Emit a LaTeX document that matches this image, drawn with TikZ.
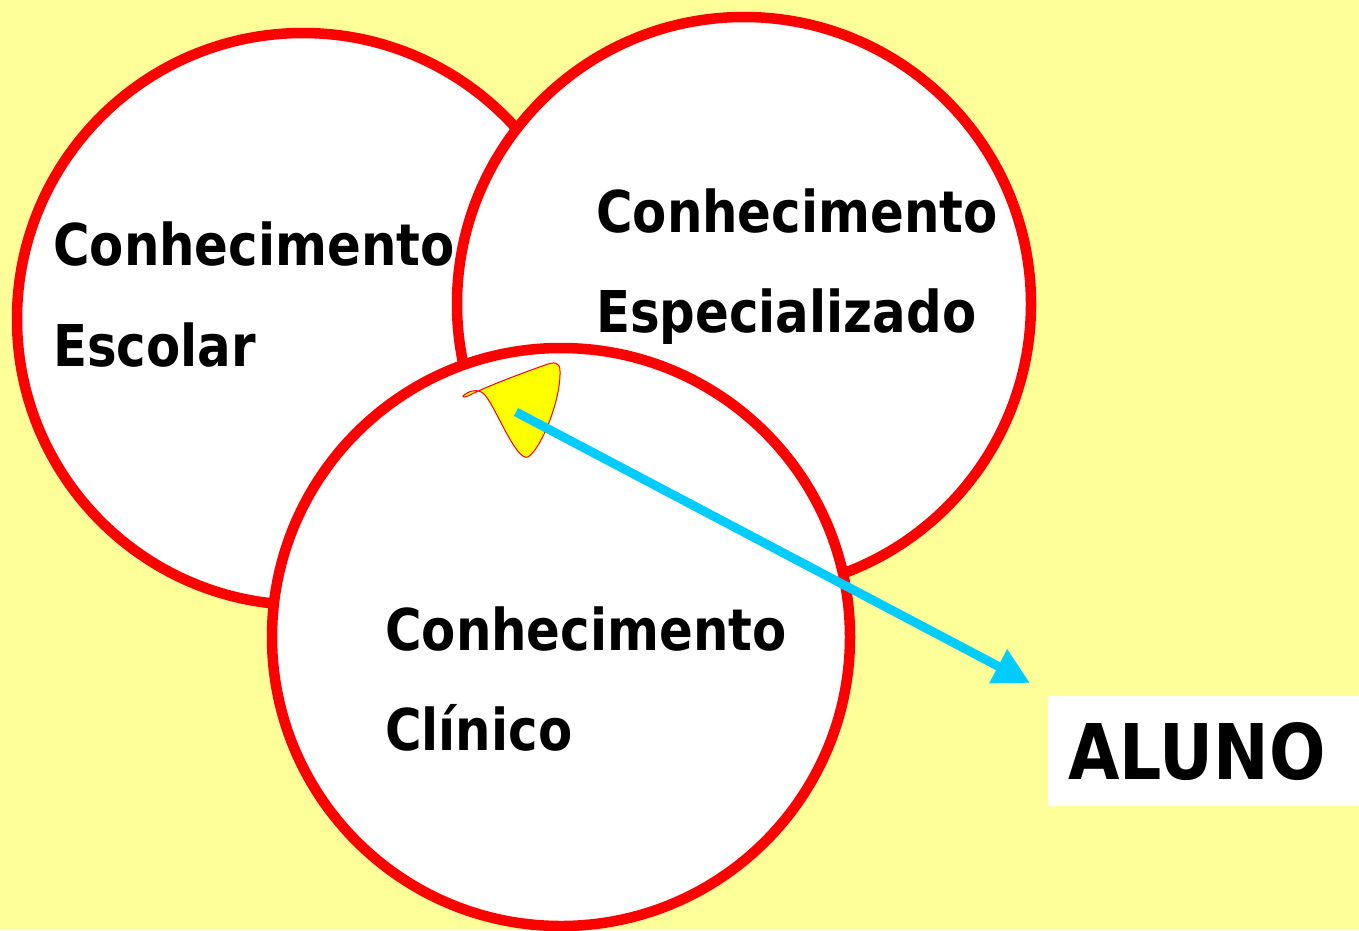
\documentclass[tikz,border=0pt]{standalone}
\usepackage{fontspec}
\usepackage{xcolor}
\usepackage{tikz}
\usetikzlibrary{arrows.meta}
\newfontfamily\labelfont{DejaVu Sans}[FakeStretch=0.865]
\definecolor{papercolor}{RGB}{255,255,153}
\definecolor{arrowcolor}{RGB}{0,204,255}
\definecolor{blobcolor}{RGB}{255,255,0}
\colorlet{ringcolor}{red}
\tikzset{
	ring/.style={
		,circle
		,draw			= ringcolor
		,fill			= white
		,line width		= 10.5pt
		,inner sep		= 0pt
	}
	,word/.style	 = {anchor = base west, inner sep = 0pt, font = \labelfont\bfseries\fontsize{57.6}{60}\selectfont}
	,pointer/.style	 = {draw = arrowcolor, line width = 9pt, -{Triangle[length=36pt, width=36pt]}}
	,target/.style	 = {fill = white, anchor = north west, minimum height = 110pt, text width = 300pt,
		inner xsep = 20pt, inner ysep = 0pt, font = \labelfont\bfseries\fontsize{76.8}{80}\selectfont}
}

\begin{document}
\begin{tikzpicture}[x=1pt, y=-1pt]

	% the background
	\useasboundingbox (0,0) rectangle (1359,930);
	\fill[papercolor] (0,0) rectangle (1359,930);

	% the circles
	\node (escolar)  [ring, minimum size = 572pt] at (303,319) {};
	\node (especial) [ring, minimum size = 574pt] at (744,304) {};
	\node (clinico)  [ring, minimum size = 578pt] at (561,637) {};

	% the texts
	\node (escolar-1)  [word] at (53,265)  {Conhecimento};
	\node (escolar-2)  [word] at (53,366)  {Escolar};
	\node (especial-1) [word] at (596,232) {Conhecimento};
	\node (especial-2) [word] at (596,332) {Especializado};
	\node (clinico-1)  [word] at (385,650) {Conhecimento};
	\node (clinico-2)  [word] at (385,750) {Clínico};

	% the yellow blob
	\filldraw[fill = blobcolor, draw = ringcolor, line width = 1pt]
		(463,396) .. controls (468,391) and (478,388) .. (484,394)
		.. controls (495,405) and (516,462) .. (528,457)
		.. controls (541,449) and (561,400) .. (560,371)
		.. controls (560,361) and (553,362) .. (545,365)
		.. controls (520,374) and (490,385) .. (470,395)
		.. controls (466,397) and (462,398) .. (463,396) -- cycle;

	% the student
	\node (aluno) [target] at (1048,696) {ALUNO};

	% the arrow
	\coordinate (from) at (516,412);
	\coordinate (to)   at (1030,683);
	\draw[pointer] (from) -- (to);
\end{tikzpicture}
\end{document}
